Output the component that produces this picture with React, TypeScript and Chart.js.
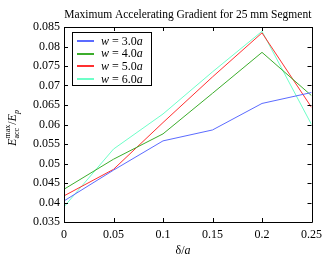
import React, { useEffect, useRef } from "react";
import { Chart, registerables } from "chart.js";

Chart.register(...registerables);

const xValues = [0, 0.05, 0.1, 0.15, 0.2, 0.25];
const seriesLabels = ["3.0", "4.0", "5.0", "6.0"];
const w30 = [0.0404, 0.0483, 0.0558, 0.0586, 0.0654, 0.0682];
const w40 = [0.0434, 0.0511, 0.0576, 0.068, 0.0785, 0.0674];
const w50 = [0.0417, 0.0485, 0.0605, 0.0722, 0.0835, 0.0644];
const w60 = [0.0389, 0.0537, 0.0627, 0.0735, 0.0839, 0.06];
const seriesColors = ["#5b6bff", "#3cad2c", "#ff3030", "#6dffc8"];
const xTicks = [0, 0.05, 0.1, 0.15, 0.2, 0.25];
const yTicks = [0.035, 0.04, 0.045, 0.05, 0.055, 0.06, 0.065, 0.07, 0.075, 0.08, 0.085];
const titleText = "Maximum Accelerating Gradient for 25 mm Segment";

const SERIF = "'Liberation Serif', 'DejaVu Serif', serif";

const framePlugin = {
  id: "frame",
  afterDraw(chart: any) {
    const ctx = chart.ctx as CanvasRenderingContext2D;
    const { left, right, top, bottom } = chart.chartArea;
    const xs = chart.scales.x;
    const ys = chart.scales.y;
    ctx.save();
    ctx.strokeStyle = "#000";
    ctx.lineWidth = 1;
    ctx.beginPath();
    ctx.rect(Math.round(left) + 0.5, Math.round(top) + 0.5, Math.round(right - left), Math.round(bottom - top));
    ctx.stroke();
    const tl = 4;
    ctx.beginPath();
    xTicks.forEach((v) => {
      const px = Math.round(xs.getPixelForValue(v)) + 0.5;
      ctx.moveTo(px, bottom);
      ctx.lineTo(px, bottom - tl);
      ctx.moveTo(px, top);
      ctx.lineTo(px, top + tl);
    });
    yTicks.forEach((v) => {
      const py = Math.round(ys.getPixelForValue(v)) + 0.5;
      ctx.moveTo(left, py);
      ctx.lineTo(left + tl, py);
      ctx.moveTo(right, py);
      ctx.lineTo(right - tl, py);
    });
    ctx.stroke();

    // title
    ctx.fillStyle = "#000";
    ctx.font = `11.5px ${SERIF}`;
    ctx.textAlign = "center";
    ctx.textBaseline = "alphabetic";
    ctx.fillText(titleText, (left + right) / 2, 18);

    // x axis title
    const part1 = "δ/";
    ctx.font = `12px ${SERIF}`;
    const w1 = ctx.measureText(part1).width;
    ctx.font = `italic 12px ${SERIF}`;
    const w2 = ctx.measureText("a").width;
    const cx = 183;
    const sx = cx - (w1 + w2) / 2;
    ctx.textAlign = "left";
    ctx.font = `12px ${SERIF}`;
    ctx.fillText(part1, sx, 254);
    ctx.font = `italic 12px ${SERIF}`;
    ctx.fillText("a", sx + w1, 254);

    // y axis title (rotated)
    ctx.save();
    ctx.translate(16, 128);
    ctx.rotate(-Math.PI / 2);
    const parts: [string, string, number][] = [
      ["E", `italic 12px ${SERIF}`, 0],
      ["acc", `8px ${SERIF}`, 3],
      ["/", `12px ${SERIF}`, 0],
      ["E", `italic 12px ${SERIF}`, 0],
      ["p", `italic 8px ${SERIF}`, 3],
    ];
    ctx.font = `8px ${SERIF}`;
    const accW = ctx.measureText("acc").width;
    const maxW = ctx.measureText("max").width;
    const widths = parts.map(([t, f]) => {
      ctx.font = f;
      return ctx.measureText(t).width;
    });
    widths[1] = Math.max(accW, maxW);
    const total = widths.reduce((a, b) => a + b, 0);
    let px = -total / 2;
    ctx.textAlign = "left";
    parts.forEach(([t, f, dy], i) => {
      ctx.font = f;
      ctx.fillText(t, px, dy);
      if (i === 1) {
        ctx.fillText("max", px, -6);
      }
      px += widths[i];
    });
    ctx.restore();

    // legend
    const lx = 72.5, ly = 32.5, lw = 79, lh = 53;
    ctx.fillStyle = "#fff";
    ctx.fillRect(lx, ly, lw, lh);
    ctx.strokeStyle = "#000";
    ctx.lineWidth = 1;
    ctx.strokeRect(lx, ly, lw, lh);
    seriesLabels.forEach((lab, i) => {
      const yy = 41 + i * 12.7;
      ctx.strokeStyle = seriesColors[i];
      ctx.lineWidth = 2;
      ctx.beginPath();
      ctx.moveTo(77, Math.round(yy));
      ctx.lineTo(94, Math.round(yy));
      ctx.stroke();
      ctx.fillStyle = "#000";
      ctx.textBaseline = "middle";
      let tx = 101;
      const segs: [string, string][] = [
        ["w", `italic 12px ${SERIF}`],
        [` = ${lab}`, `12px ${SERIF}`],
        ["a", `italic 12px ${SERIF}`],
      ];
      segs.forEach(([t, f]) => {
        ctx.font = f;
        ctx.fillText(t, tx, yy + 0.5);
        tx += ctx.measureText(t).width;
      });
    });
    ctx.restore();
  },
};

export default function App() {
  const ref = useRef<HTMLCanvasElement>(null);
  useEffect(() => {
    document.body.style.margin = "0";
    const mk = (d: number[], i: number) => ({
      label: `w = ${seriesLabels[i]}a`,
      data: d.map((y, j) => ({ x: xValues[j], y })),
      borderColor: seriesColors[i],
      backgroundColor: seriesColors[i],
      borderWidth: 1,
      pointRadius: 0,
      tension: 0,
      fill: false,
    });
    const chart = new Chart(ref.current as HTMLCanvasElement, {
      type: "line",
      data: { datasets: [mk(w30, 0), mk(w40, 1), mk(w50, 2), mk(w60, 3)] },
      options: {
        animation: false,
        responsive: false,
        maintainAspectRatio: false,
        layout: { padding: { top: 27, right: 16, left: 0, bottom: 0 } },
        plugins: { legend: { display: false }, title: { display: false }, tooltip: { enabled: false } },
        scales: {
          x: {
            type: "linear",
            min: 0,
            max: 0.25,
            grid: { display: false, drawTicks: false },
            border: { display: false },
            afterBuildTicks: (s: any) => {
              s.ticks = xTicks.map((v) => ({ value: v }));
            },
            afterFit: (s: any) => {
              s.height = 37;
            },
            ticks: {
              padding: 6,
              color: "#000",
              maxRotation: 0,
              font: { family: SERIF, size: 12 },
              callback: (v: any) => String(Number(Number(v).toFixed(3))),
            },
          },
          y: {
            type: "linear",
            min: 0.035,
            max: 0.085,
            grid: { display: false, drawTicks: false },
            border: { display: false },
            afterBuildTicks: (s: any) => {
              s.ticks = yTicks.map((v) => ({ value: v }));
            },
            afterFit: (s: any) => {
              s.width = 64;
            },
            ticks: {
              padding: 4,
              color: "#000",
              font: { family: SERIF, size: 12 },
              callback: (v: any) => String(Number(Number(v).toFixed(3))),
            },
          },
        },
      },
      plugins: [framePlugin],
    });
    return () => chart.destroy();
  }, []);
  return (
    <div style={{ width: 328, height: 259 }}>
      <canvas ref={ref} width={328} height={259} style={{ display: "block" }} />
    </div>
  );
}
